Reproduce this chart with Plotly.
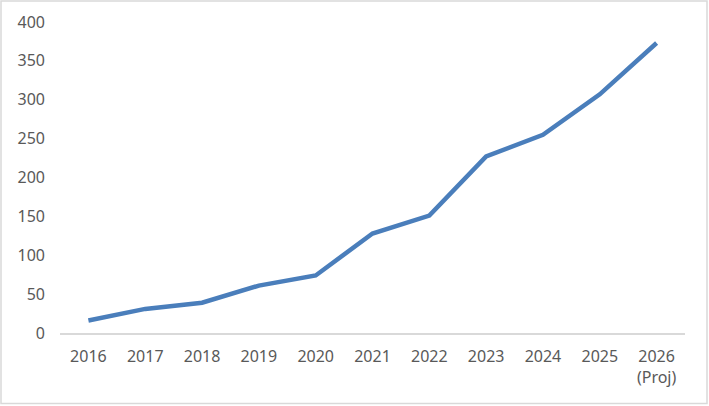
import plotly.graph_objects as go

years = ["2016", "2017", "2018", "2019", "2020", "2021", "2022", "2023", "2024", "2025", "2026<br>(Proj)"]
values = [16, 31, 39, 61, 74, 128, 151, 227, 255, 307, 373]
y_ticks = [0, 50, 100, 150, 200, 250, 300, 350, 400]

W, H = 709, 406
L, R, T, B = 60, 24, 22, 72.5
pw, ph = W - L - R, H - T - B

fig = go.Figure()
fig.add_trace(go.Scatter(
    x=years, y=values, mode="lines",
    line=dict(color="#4a7ebb", width=4.5),
    hoverinfo="x+y",
))

font = dict(family="Noto Sans", size=16, color="#595959")

fig.update_layout(
    width=W, height=H,
    margin=dict(l=L, r=R, t=T, b=B),
    paper_bgcolor="white", plot_bgcolor="white",
    showlegend=False,
    font=font,
    xaxis=dict(
        type="category",
        range=[-0.5, len(years) - 0.5],
        showgrid=False, zeroline=False,
        showline=True, linecolor="#d9d9d9", linewidth=1.5,
        ticks="", tickfont=font, ticklabelstandoff=8,
        fixedrange=True,
    ),
    yaxis=dict(
        range=[0, 400],
        tickvals=y_ticks,
        showgrid=False, zeroline=False, showline=False,
        ticks="", tickfont=font, ticklabelstandoff=14,
        fixedrange=True,
    ),
    shapes=[dict(
        type="rect", xref="paper", yref="paper",
        x0=(1 - L) / pw, x1=(W - 2 - L) / pw,
        y0=-(B - 2) / ph,
        y1=1 + (T - 1) / ph,
        line=dict(color="#d9d9d9", width=1.5),
        fillcolor="rgba(0,0,0,0)",
        layer="below",
    )],
)

fig.write_html("out.html")
